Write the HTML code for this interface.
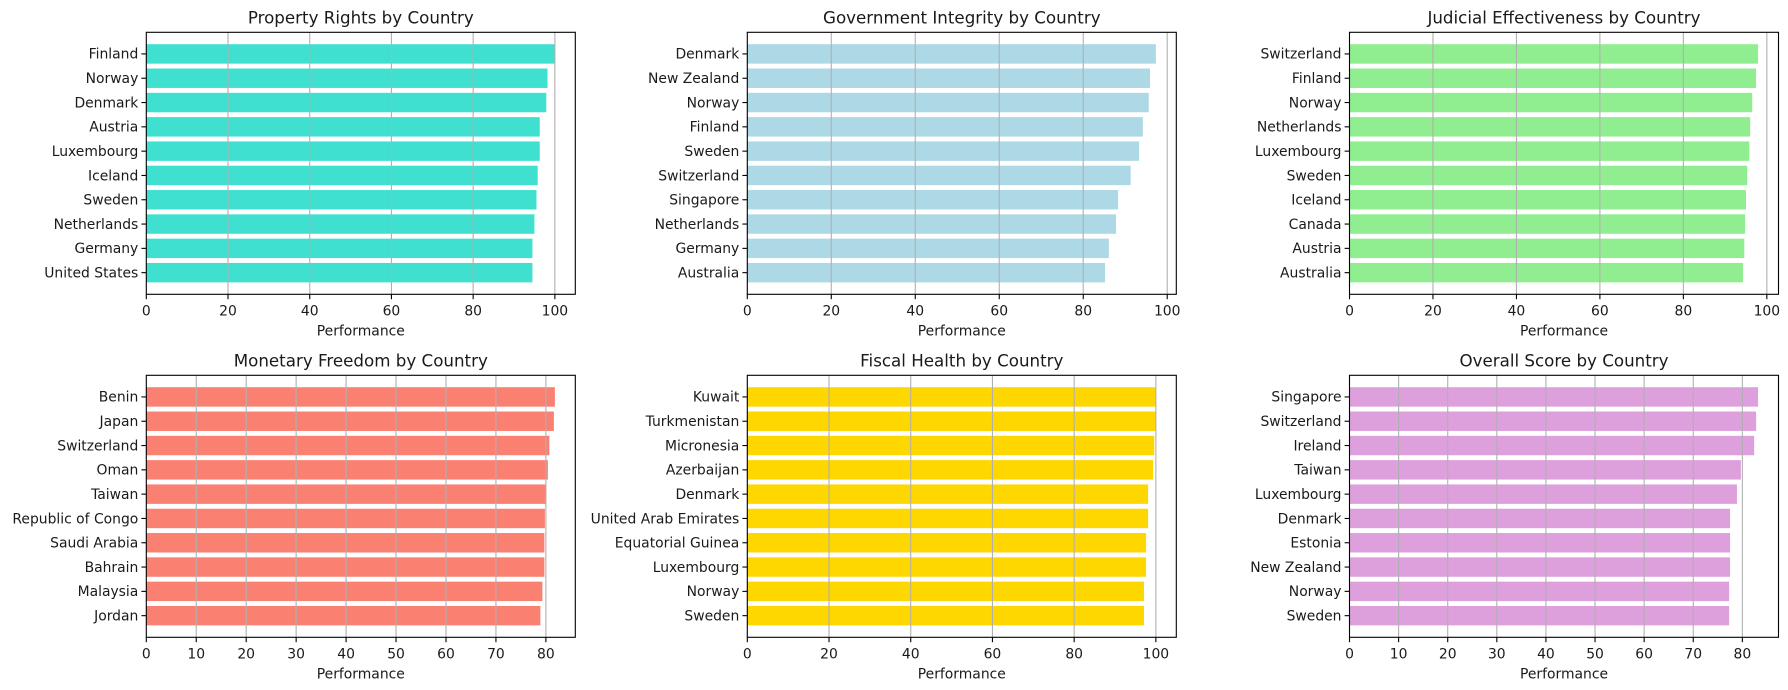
<!DOCTYPE html>
<html><head><meta charset="utf-8"><style>
html,body{margin:0;padding:0;background:#fff;}
svg{display:block;font-family:"DejaVu Sans","Liberation Sans",sans-serif;}
</style></head><body>
<svg id="chart" width="1788" height="690" viewBox="0 0 1788 690" xmlns="http://www.w3.org/2000/svg"></svg>
<script>
const titles = ["Property Rights by Country","Government Integrity by Country","Judicial Effectiveness by Country","Monetary Freedom by Country","Fiscal Health by Country","Overall Score by Country"];
const colors = ["#40e0d0","#add8e6","#90ee90","#fa8072","#ffd700","#dda0dd"];
const catsPR = ["Finland","Norway","Denmark","Austria","Luxembourg","Iceland","Sweden","Netherlands","Germany","United States"];
const valsPR = [100,98.2,97.9,96.3,96.3,95.8,95.5,95.0,94.5,94.5];
const catsGI = ["Denmark","New Zealand","Norway","Finland","Sweden","Switzerland","Singapore","Netherlands","Germany","Australia"];
const valsGI = [97.3,95.9,95.6,94.2,93.3,91.3,88.3,87.8,86.1,85.2];
const catsJE = ["Switzerland","Finland","Norway","Netherlands","Luxembourg","Sweden","Iceland","Canada","Austria","Australia"];
const valsJE = [97.9,97.4,96.5,96.0,95.8,95.3,95.0,94.8,94.6,94.3];
const catsMF = ["Benin","Japan","Switzerland","Oman","Taiwan","Republic of Congo","Saudi Arabia","Bahrain","Malaysia","Jordan"];
const valsMF = [81.8,81.6,80.7,80.4,80.1,79.8,79.7,79.7,79.3,78.9];
const catsFH = ["Kuwait","Turkmenistan","Micronesia","Azerbaijan","Denmark","United Arab Emirates","Equatorial Guinea","Luxembourg","Norway","Sweden"];
const valsFH = [100,99.9,99.6,99.3,98.1,98.1,97.6,97.6,97.1,97.1];
const catsOS = ["Singapore","Switzerland","Ireland","Taiwan","Luxembourg","Denmark","Estonia","New Zealand","Norway","Sweden"];
const valsOS = [83.2,82.8,82.4,79.7,78.9,77.5,77.5,77.5,77.3,77.3];
const ticksA = [0,20,40,60,80,100];
const ticksB = [0,10,20,30,40,50,60,70,80];

const panels = [
  {cats:catsPR, vals:valsPR, ticks:ticksA, x:146.3, y:32.3, slug:"property-rights"},
  {cats:catsGI, vals:valsGI, ticks:ticksA, x:747.3, y:32.3, slug:"government-integrity"},
  {cats:catsJE, vals:valsJE, ticks:ticksA, x:1349.5, y:32.3, slug:"judicial-effectiveness"},
  {cats:catsMF, vals:valsMF, ticks:ticksB, x:146.3, y:375.3, slug:"monetary-freedom"},
  {cats:catsFH, vals:valsFH, ticks:ticksA, x:747.3, y:375.3, slug:"fiscal-health"},
  {cats:catsOS, vals:valsOS, ticks:ticksB, x:1349.5, y:375.3, slug:"overall-score"}
];
const W = 429, H = 262;
const NS = "http://www.w3.org/2000/svg";
const svg = document.getElementById("chart");
function mk(tag, attrs, parent){
  const e = document.createElementNS(NS, tag);
  for (const k in attrs) e.setAttribute(k, attrs[k]);
  (parent||svg).appendChild(e);
  return e;
}
panels.forEach((p, i) => {
  const g = mk("g", {});
  
  
  const maxV = Math.max(...p.vals);
  const xMax = maxV * 1.05;
  const xs = v => p.x + v / xMax * W;
  const n = p.cats.length;
  const yLo = -0.4 - 0.49, yHi = (n - 1) + 0.4 + 0.49;
  const ys = idx => p.y + (idx - yLo) / (yHi - yLo) * H; // idx 0 = top category
  const bh = 0.8 / (yHi - yLo) * H;
  p.cats.forEach((c, k) => {
    const r = mk("rect", {x:xs(0), y:ys(k) - bh/2, width:xs(p.vals[k]) - xs(0), height:bh, fill:colors[i]}, g);
    
    
    mk("line", {x1:p.x-4.9, x2:p.x, y1:ys(k), y2:ys(k), stroke:"#000", "stroke-width":1.1}, g);
    const t = mk("text", {x:p.x-8, y:ys(k)+4.8, "text-anchor":"end", "font-size":13.9, fill:"#1a1a1a"}, g);
    t.textContent = c;
    
    
  });
  p.ticks.forEach(tv => {
    if (tv > 0) {
      const gl = mk("line", {x1:xs(tv), x2:xs(tv), y1:p.y, y2:p.y+H, stroke:"#b0b0b0", "stroke-width":1.1}, g);
      
      
    }
    mk("line", {x1:xs(tv), x2:xs(tv), y1:p.y+H, y2:p.y+H+4.9, stroke:"#000", "stroke-width":1.1}, g);
    const t = mk("text", {x:xs(tv), y:p.y+H+21, "text-anchor":"middle", "font-size":13.9, fill:"#1a1a1a"}, g);
    t.textContent = tv;
    
    
  });
  const fr = mk("rect", {x:p.x, y:p.y, width:W, height:H, fill:"none", stroke:"#000", "stroke-width":1.1}, g);
  
  
  const xt = mk("text", {x:p.x+W/2, y:p.y+H+41, "text-anchor":"middle", "font-size":13.9, fill:"#1a1a1a"}, g);
  xt.textContent = "Performance";
  
  
  const tt = mk("text", {x:p.x+W/2, y:p.y-9, "text-anchor":"middle", "font-size":16.7, fill:"#1a1a1a"}, g);
  tt.textContent = titles[i];
  
  
});
</script>
</body></html>
